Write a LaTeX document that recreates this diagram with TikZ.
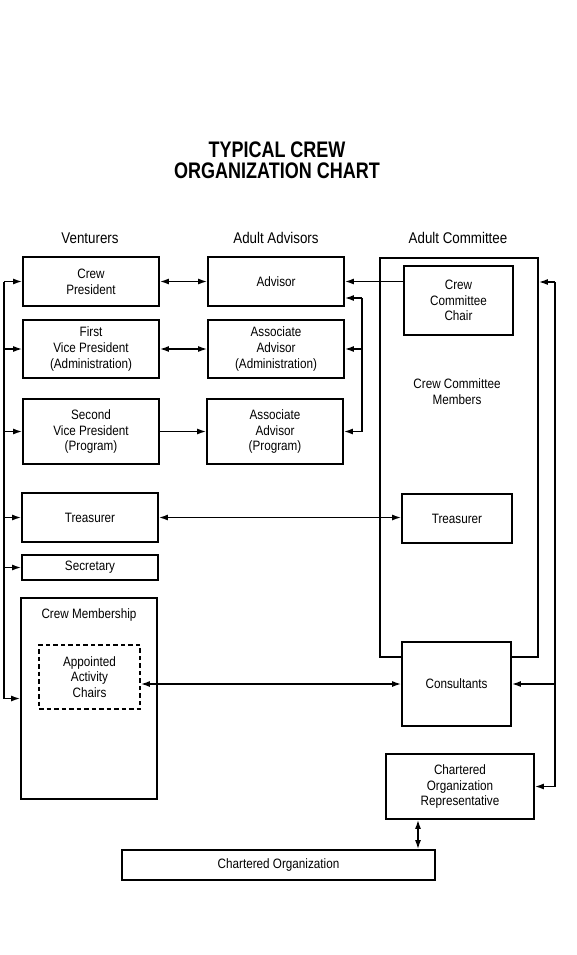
\documentclass[tikz,border=0pt]{standalone}
\usepackage{fontspec}
\setmainfont{Liberation Sans}[FakeStretch=0.86]
\newfontfamily\titlefont{Liberation Sans}[FakeStretch=0.8]
\usetikzlibrary{arrows.meta,calc}
\begin{document}
\begin{tikzpicture}[x=1pt,y=-1pt,
  box/.style={draw,line width=1.7pt,fill=white,inner sep=2pt,align=center,
    font=\fontsize{13.6}{15.8}\selectfont},
  hdr/.style={font=\fontsize{15.5}{17}\selectfont},
  ln/.style={line width=1.5pt},
  arr/.style={ln,-{Latex[length=9pt,width=6pt]}},
  darr/.style={ln,{Latex[length=9pt,width=6pt]}-{Latex[length=9pt,width=6pt]}}]
\useasboundingbox (0,0) rectangle (576,955);
% title
\node[font=\titlefont\bfseries\fontsize{22.5}{21}\selectfont,align=center] (title) at (277,160) {TYPICAL CREW\\ORGANIZATION CHART};
\node[hdr] (hv) at (90,238) {Venturers};
\node[hdr] (ha) at (276,238) {Adult Advisors};
\node[hdr] (hc) at (458,238) {Adult Committee};
% venturers
\node[box,minimum width=136,minimum height=49] (cp) at (91,281.5) {Crew\\President};
\node[box,minimum width=136,minimum height=58] (vp1) at (91,349) {First\\Vice President\\(Administration)};
\node[box,minimum width=136,minimum height=65] (vp2) at (91,431.5) {Second\\Vice President\\(Program)};
\node[box,minimum width=136,minimum height=49] (tr1) at (90,517.5) {Treasurer};
\node[box,minimum width=136,minimum height=25] (sec) at (90,567.5) {Secretary};
\node[box,minimum width=136,minimum height=201] (mem) at (89,698.5) {};
\node[box,draw=none,fill=none] (memt) at (89,615) {Crew Membership};
\node[box,dashed,dash pattern=on 4.5pt off 3pt,minimum width=101,minimum height=64] (aac) at (89.5,677) {Appointed\\Activity\\Chairs};
% advisors
\node[box,minimum width=136,minimum height=49] (adv) at (276,281.5) {Advisor};
\node[box,minimum width=136,minimum height=58] (aa1) at (276,349) {Associate\\Advisor\\(Administration)};
\node[box,minimum width=136,minimum height=65] (aa2) at (275,431.5) {Associate\\Advisor\\(Program)};
% committee
\node[draw,line width=1.7pt,minimum width=158,minimum height=399,inner sep=0] (cm) at (459,457.5) {};
\node[box,minimum width=109,minimum height=69] (ccc) at (458.5,300.5) {Crew\\Committee\\Chair};
\node[box,draw=none,fill=none] (ccm) at (457,392) {Crew Committee\\Members};
\node[box,minimum width=110,minimum height=49] (tr2) at (457,518.5) {Treasurer};
\node[box,minimum width=109,minimum height=84] (con) at (456.5,684) {Consultants};
\node[box,minimum width=148,minimum height=65] (cor) at (460,786.5) {Chartered\\Organization\\Representative};
\node[box,minimum width=313,minimum height=30] (co) at (278.5,865) {Chartered Organization};
% left bus
\coordinate (lt) at (4,281.5);
\coordinate (lb) at (4,698.5);
\draw[ln] (lt) -- (lb);
\draw[arr] (lt) -- (cp.west);
\draw[arr] (vp1.west -| lt) -- (vp1.west);
\draw[arr] (vp2.west -| lt) -- (vp2.west);
\draw[arr] (tr1.west -| lt) -- (tr1.west);
\draw[arr] (sec.west -| lt) -- (sec.west);
\draw[arr] (lb) -- (mem.west);
% venturers - advisors
\draw[darr] (cp.east) -- (adv.west);
\draw[darr] (vp1.east) -- (aa1.west);
\draw[arr] (vp2.east) -- (aa2.west);
% chair to advisor
\draw[arr] (ccc.west |- adv.east) -- (adv.east);
% advisor bracket
\coordinate (bt) at (362,298);
\coordinate (bb) at (362,431.5);
\draw[ln] (bt) -- (bb);
\draw[arr] (bt) -- (bt -| adv.east);
\draw[arr] (aa1.east -| bt) -- (aa1.east);
\draw[arr] (bb) -- (aa2.east);
% treasurer link
\draw[darr] (tr1.east) -- (tr1.east -| tr2.west);
% activity chairs to consultants
\draw[darr] (aac.east |- con.west) -- (con.west);
% right bus
\coordinate (rt) at (555,282);
\coordinate (rb) at (555,786.5);
\draw[ln] (rt) -- (rb);
\draw[arr] (rt) -- (rt -| cm.east);
\draw[arr] (con.east -| rt) -- (con.east);
\draw[arr] (rb) -- (cor.east);
% representative to organization
\coordinate (cx) at (418,0);
\draw[darr] (cor.south -| cx) -- (co.north -| cx);
\end{tikzpicture}
\end{document}
